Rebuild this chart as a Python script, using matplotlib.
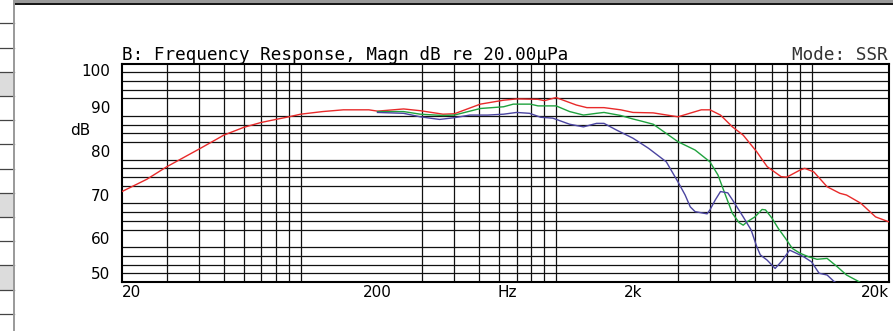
import numpy as np
import matplotlib
matplotlib.use("Agg")
import matplotlib.pyplot as plt
from matplotlib.patches import Rectangle

# --- data ---
red_freq = [20, 25, 30, 40, 47, 50, 60, 70, 80, 90, 100, 122, 147, 185, 200, 253, 294,
            361, 400, 505, 623, 703, 848, 900, 1000, 1200, 1320, 1540, 1790, 2000, 2400,
            3000, 3700, 4000, 4400, 4900, 5400, 6100, 6700, 7600, 8000, 9000, 9400, 10200,
            11500, 12900, 13700, 15600, 17800, 20000]
red_db = [70.7, 73.5, 76.4, 80.4, 82.7, 83.6, 85.4, 86.5, 87.2, 87.8, 88.4, 89.0, 89.4,
          89.4, 89.1, 89.6, 89.2, 88.4, 88.5, 90.7, 91.6, 91.9, 91.8, 91.5, 92.2, 90.5,
          89.9, 89.9, 89.4, 88.8, 88.7, 87.8, 89.4, 89.4, 88.2, 85.5, 83.6, 79.8, 76.4,
          74.1, 74.0, 75.6, 76.0, 75.2, 71.8, 70.3, 69.9, 68.0, 64.9, 63.8]

green_freq = [200, 253, 294, 361, 400, 505, 623, 680, 793, 850, 1000, 1130, 1280, 1440,
              1540, 1790, 2000, 2130, 2400, 3000, 3500, 4000, 4300, 4600, 4900, 5200,
              5400, 5600, 6000, 6400, 6600, 7000, 7400, 7900, 8400, 9000, 9700, 10500,
              11500, 12600, 13700, 15300, 16000]
green_db = [89.0, 89.0, 88.4, 88.1, 88.2, 89.7, 90.1, 90.7, 90.7, 90.3, 90.3, 89.0, 88.2,
            88.6, 88.8, 88.1, 87.3, 86.9, 86.1, 82.1, 80.2, 77.5, 74.5, 69.9, 65.7, 63.6,
            63.0, 63.8, 64.9, 66.6, 66.5, 64.6, 62.3, 60.0, 57.7, 56.6, 55.8, 55.2, 55.4,
            53.5, 51.6, 50.1, 49.4]

blue_freq = [200, 253, 294, 350, 400, 460, 540, 623, 700, 787, 870, 970, 1130, 1280, 1440,
             1540, 1720, 2000, 2300, 2700, 3000, 3200, 3350, 3500, 3900, 4000, 4200, 4400,
             4700, 4900, 5400, 5800, 6100, 6300, 6700, 7200, 7700, 8200, 8700, 9300, 10000,
             10700, 11500, 12200, 12800]
blue_db = [88.8, 88.6, 87.8, 87.2, 87.6, 88.2, 88.2, 88.4, 88.8, 88.6, 87.7, 87.5, 86.1,
           85.5, 86.3, 86.3, 84.8, 82.9, 80.6, 77.5, 72.9, 69.9, 67.2, 66.1, 65.6, 66.5,
           68.8, 70.7, 70.4, 68.8, 64.9, 61.9, 58.1, 56.2, 55.0, 53.1, 55.0, 57.3, 56.6,
           55.8, 54.6, 52.0, 51.6, 50.2, 49.4]

x_tick_freq = [20, 200, 643, 2000, 20000]
x_tick_labels = ["20", "200", "Hz", "2k", "20k"]
y_ticks = [100, 90, 80, 70, 60, 50]


def main():
    W, H = 893, 331
    fig = plt.figure(figsize=(W / 100, H / 100), dpi=100)

    # background decoration (left strip, top bar) in pixel coords
    deco = fig.add_axes([0, 0, 1, 1], zorder=0)
    deco.set_xlim(0, W)
    deco.set_ylim(H, 0)
    deco.axis("off")
    deco.add_patch(Rectangle((13.5, 0), W, 3.3, color="#9a9a9a", lw=0))
    deco.plot([13.5, W], [4.0, 4.0], color="black", lw=1.3)
    for y0 in [71.7, 192.7, 265.3]:
        deco.add_patch(Rectangle((0, y0), 13.5, 24.3, color="#dcdcdc", lw=0))
    for yy in [23.3, 47.7, 71.7, 96, 120, 144.3, 168.7, 192.7, 217, 241, 265.3, 289.7, 313.7]:
        deco.plot([0, 13.5], [yy, yy], color="#444444", lw=0.9)
    deco.plot([13.7, 13.7], [0, 330], color="#999999", lw=1.4)

    # main plot
    left, right, top, bottom = 122, 888.5, 63.5, 282
    ax = fig.add_axes([left / W, (H - bottom) / H, (right - left) / W, (bottom - top) / H], zorder=1)
    ax.set_xscale("log")
    ax.set_xlim(20, 20000)
    ax.set_ylim(50, 100)

    ax.plot(red_freq, red_db, color="#e82a2a", lw=1.0, zorder=3)
    ax.plot(green_freq, green_db, color="#1fa23e", lw=1.0, zorder=3)
    ax.plot(blue_freq, blue_db, color="#4a44a0", lw=1.0, zorder=3)

    # grid: every 2 dB, every 1-2-...-9 within each decade
    grid_freq = [m * 10 ** d for d in range(1, 5) for m in range(1, 10) if 20 <= m * 10 ** d <= 20000]
    ax.set_xticks(grid_freq, minor=True)
    ax.set_yticks(np.arange(50, 101, 2), minor=True)
    ax.grid(which="minor", color="#111111", lw=0.9, zorder=1)
    ax.set_axisbelow(True)

    ax.set_xticks(x_tick_freq)
    ax.set_xticklabels(x_tick_labels, fontsize=11, family="DejaVu Sans")
    ax.set_yticks(y_ticks)
    ax.set_yticklabels([str(v) for v in y_ticks], fontsize=11, family="DejaVu Sans")
    ax.tick_params(which="both", length=0)
    ax.tick_params(axis="y", pad=8.6)
    ax.tick_params(axis="x", pad=2.5)
    ax.get_xaxis().set_minor_formatter(matplotlib.ticker.NullFormatter())

    xl = ax.get_xticklabels()
    xl[0].set_ha("left")
    xl[-1].set_ha("right")
    yl = ax.get_yticklabels()
    yl[0].set_va("top")
    yl[-1].set_va("bottom")

    for s in ax.spines.values():
        s.set_linewidth(1.5)
        s.set_color("black")

    # texts
    fig.text(left / W, 1 - 60 / H, "B: Frequency Response, Magn dB re 20.00\u00b5Pa",
             family="DejaVu Sans Mono", fontsize=12.7, ha="left", va="baseline")
    fig.text(888 / W, 1 - 60 / H, "Mode: SSR", family="DejaVu Sans Mono", fontsize=12.7,
             ha="right", va="baseline", color="#333333")
    fig.text(90 / W, 1 - 130 / H, "dB", fontsize=11, ha="right", va="center")

    fig.savefig("out.png", dpi=100)


if __name__ == "__main__":
    main()
